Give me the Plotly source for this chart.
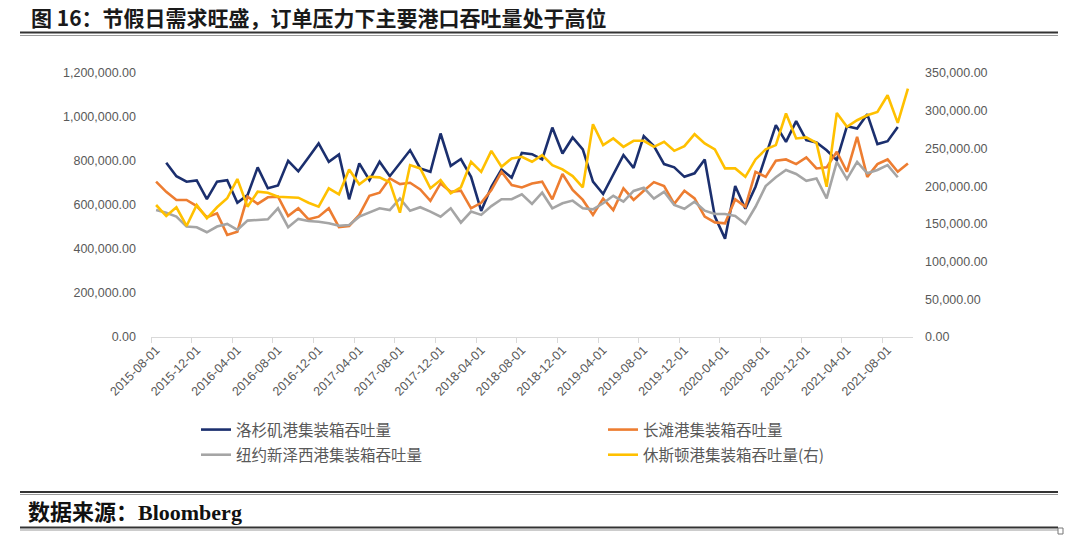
import plotly.graph_objects as go

# ---------------- data (thousands of TEU-like units) ----------------
months = [f"{y}-{m:02d}-01" for y in range(2015, 2022) for m in range(1, 13)]
dates = [d for d in months if "2015-08-01" <= d <= "2021-10-01"]

tick_labels = ["2015-08-01", "2015-12-01", "2016-04-01", "2016-08-01", "2016-12-01",
               "2017-04-01", "2017-08-01", "2017-12-01", "2018-04-01", "2018-08-01",
               "2018-12-01", "2019-04-01", "2019-08-01", "2019-12-01", "2020-04-01",
               "2020-08-01", "2020-12-01", "2021-04-01", "2021-08-01"]

los_angeles = [None, 792, 731, 706, 712, 627, 706, 713, 610, 645,
               771, 676, 689, 801, 753, 816, 880, 796, 830, 626,
               789, 713, 797, 731, 789, 849, 766, 751, 925, 778,
               809, 728, 573, 683, 762, 724, 837, 831, 807, 952,
               834, 907, 853, 706, 650, 736, 827, 769, 913, 868,
               786, 771, 728, 744, 807, 547, 447, 686, 583, 683,
               827, 963, 887, 981, 895, 884, 849, 804, 958, 948,
               1013, 877, 890, 955, None]

long_beach = [706, 660, 623, 623, 595, 544, 562, 464, 479, 638,
              605, 635, 638, 550, 585, 535, 547, 585, 499, 505,
              555, 642, 656, 721, 695, 701, 671, 619, 698, 660,
              665, 585, 610, 668, 751, 691, 680, 698, 706, 626,
              741, 668, 623, 555, 629, 577, 676, 623, 665, 704,
              686, 605, 665, 630, 547, 521, 517, 626, 592, 751,
              728, 801, 807, 786, 816, 766, 771, 842, 751, 910,
              728, 786, 807, 751, 789]

ny_nj = [577, 565, 547, 502, 499, 476, 502, 514, 487, 529,
         532, 535, 585, 499, 537, 527, 524, 517, 506, 509,
         547, 565, 585, 577, 630, 574, 590, 570, 547, 585,
         520, 570, 555, 595, 626, 626, 649, 605, 656, 585,
         608, 620, 585, 580, 608, 642, 615, 664, 678, 629,
         660, 600, 583, 615, 574, 559, 559, 550, 514, 592,
         686, 726, 759, 741, 710, 721, 630, 796, 718, 796,
         744, 759, 781, 726, None]

houston = [175.0, 160.4, 172.0, 147.2, 175.0, 157.4, 172.0, 183.9, 209.4, 172.8,
           192.6, 191.3, 186.0, 185.2, 184.7, 178.0, 172.8, 197.1, 189.2, 222.2,
           202.4, 212.4, 211.6, 205.0, 164.8, 227.9, 223.5, 197.1, 208.1, 190.5,
           198.4, 232.3, 219.0, 246.8, 225.7, 236.8, 238.9, 232.3, 241.1, 227.9,
           222.2, 213.4, 198.4, 282.1, 254.4, 263.2, 252.1, 260.1, 260.1, 252.1,
           258.7, 246.8, 253.0, 268.9, 256.6, 248.7, 223.5, 223.5, 212.4, 235.4,
           248.7, 254.4, 296.3, 263.2, 264.6, 257.4, 199.2, 297.1, 278.6, 287.4,
           294.0, 298.4, 320.5, 283.9, 329.4]

def k(vals):
    return [None if v is None else v * 1000 for v in vals]

# ---------------- layout geometry ----------------
W, H = 1068, 540
L, R, T, B = 151, 155, 73, 203
PW, PH = W - L - R, H - T - B

def px(x):
    return (x - L) / PW

def py(y):
    return (H - B - y) / PH

NAVY, ORANGE, GRAY, YELLOW = "#1b2f6e", "#ed7d31", "#a5a5a5", "#ffc000"
TXT = "#595959"
CJK = "Noto Sans CJK SC"

fig = go.Figure()
fig.add_trace(go.Scatter(x=dates, y=k(los_angeles), name="洛杉矶港集装箱吞吐量",
                         mode="lines", line=dict(color=NAVY, width=2.6),
                         legend="legend", legendgroup="a"))
fig.add_trace(go.Scatter(x=dates, y=k(long_beach), name="长滩港集装箱吞吐量",
                         mode="lines", line=dict(color=ORANGE, width=2.6),
                         legend="legend2", legendgroup="b"))
fig.add_trace(go.Scatter(x=dates, y=k(ny_nj), name="纽约新泽西港集装箱吞吐量",
                         mode="lines", line=dict(color=GRAY, width=2.6),
                         legend="legend", legendgroup="c"))
fig.add_trace(go.Scatter(x=dates, y=k(houston), name="休斯顿港集装箱吞吐量(右)",
                         mode="lines", line=dict(color=YELLOW, width=2.6),
                         yaxis="y2", legend="legend2", legendgroup="d"))

n = len(dates)
fig.update_layout(
    width=W, height=H,
    margin=dict(l=L, r=R, t=T, b=B),
    paper_bgcolor="white", plot_bgcolor="white",
    showlegend=True,
    xaxis=dict(type="category", range=[-0.5, n - 0.5], showgrid=False, zeroline=False,
               showline=True, linecolor="#d9d9d9", linewidth=1,
               tickmode="array", tickvals=tick_labels, ticktext=tick_labels,
               ticks="", tickangle=-45,
               tickfont=dict(family="Liberation Sans", size=12.5, color=TXT),
               minor=dict(tickmode="array",
                          tickvals=[i * 4 - 0.5 for i in range(len(tick_labels))],
                          ticks="outside", ticklen=5, tickwidth=1, tickcolor="#d9d9d9",
                          showgrid=False)),
    yaxis=dict(range=[0, 1200000], dtick=200000, tickformat=",.2f", showgrid=False,
               zeroline=False, showline=False, ticks="", ticklabelstandoff=14,
               tickfont=dict(family="Liberation Sans", size=12.5, color=TXT)),
    yaxis2=dict(range=[0, 350000], dtick=50000, tickformat=",.2f", showgrid=False,
                zeroline=False, showline=False, ticks="", overlaying="y", side="right",
                ticklabelstandoff=11,
                tickfont=dict(family="Liberation Sans", size=12.5, color=TXT)),
    legend=dict(x=px(196), y=py(413), xanchor="left", yanchor="top",
                orientation="v", tracegroupgap=2, bgcolor="rgba(0,0,0,0)",
                font=dict(family=CJK, size=15.5, color=TXT)),
    legend2=dict(x=px(603), y=py(413), xanchor="left", yanchor="top",
                 orientation="v", tracegroupgap=2, bgcolor="rgba(0,0,0,0)",
                 font=dict(family=CJK, size=15.5, color=TXT)),
)

# title and source
fig.add_annotation(x=px(29), y=py(17), xref="paper", yref="paper", showarrow=False,
                   xanchor="left", yanchor="middle",
                   text="<b>图 16：节假日需求旺盛，订单压力下主要港口吞吐量处于高位</b>",
                   font=dict(family=CJK, size=21, color="#1a1a1a"))
fig.add_annotation(x=px(26), y=py(512), xref="paper", yref="paper", showarrow=False,
                   xanchor="left", yanchor="middle",
                   text="<b>数据来源：Bloomberg</b>",
                   font=dict(family="Liberation Serif, " + CJK, size=22, color="#111111"))

# rules
def hline(y, width, color, x0=20, x1=1058):
    fig.add_shape(type="line", xref="paper", yref="paper", x0=px(x0), x1=px(x1),
                  y0=py(y), y1=py(y), line=dict(color=color, width=width))

hline(32.5, 2, "#333333")
hline(35.5, 1, "#9a9a9a")
hline(492, 2, "#333333")
hline(494.5, 1, "#9a9a9a")
hline(527.5, 2, "#333333")
hline(530, 1, "#9a9a9a")
fig.add_shape(type="rect", xref="paper", yref="paper", x0=px(1058), x1=px(1063),
              y0=py(534), y1=py(528), line=dict(color="#777777", width=1))

fig.write_html("out.html", config={"displayModeBar": False},
               post_script="document.body.style.margin='0';document.body.style.overflow='hidden';")
